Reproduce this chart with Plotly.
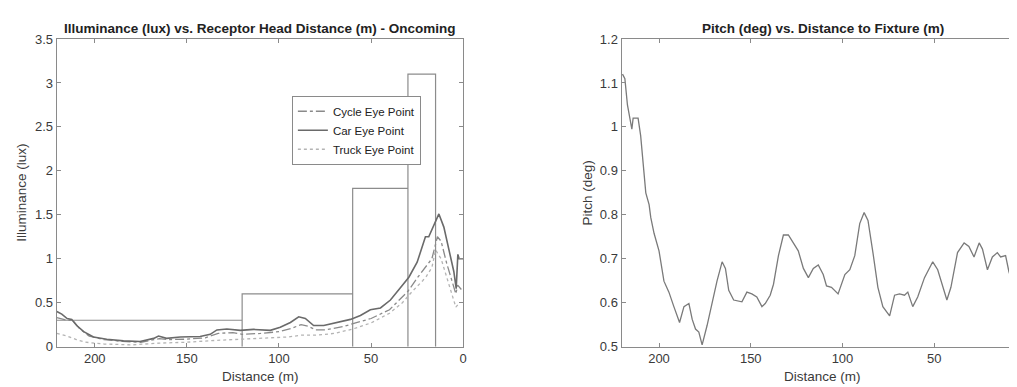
import plotly.graph_objects as go

# ---------------- Data ----------------
# Left: illuminance vs distance
car_d = [220.6, 217.9, 215.0, 212.5, 209.8, 206.0, 200.7, 193.5, 184.4, 175.4, 168.0, 165.4, 161.0,
         153.6, 142.8, 137.3, 133.7, 128.3, 121.0, 113.8, 104.7, 99.3, 93.8, 89.3, 85.7, 81.2, 75.7,
         68.5, 61.2, 55.8, 50.4, 44.9, 39.5, 34.1, 29.5, 25.0, 20.5, 18.7, 15.0, 13.2, 10.5, 7.8,
         5.1, 3.8, 2.9, 2.2, 1.1, 0.0]
car_lux = [0.40, 0.37, 0.32, 0.31, 0.24, 0.17, 0.11, 0.083, 0.065, 0.058, 0.094, 0.12, 0.094,
           0.11, 0.116, 0.14, 0.19, 0.20, 0.185, 0.196, 0.185, 0.22, 0.275, 0.34, 0.32, 0.24, 0.24,
           0.275, 0.31, 0.355, 0.42, 0.44, 0.53, 0.67, 0.79, 0.96, 1.25, 1.25, 1.42, 1.51, 1.36, 1.09,
           0.855, 0.66, 1.05, 1.0, 1.0, 1.0]

cycle_d = [220.6, 215, 212, 208, 203, 195, 185, 175, 165, 160, 150, 140, 133, 125, 120, 110, 100,
           93, 88, 84, 80, 75, 65, 60, 50, 40, 35, 30, 25, 20, 17, 14, 12, 9, 6, 4, 3, 1]
cycle_lux = [0.33, 0.30, 0.30, 0.20, 0.12, 0.08, 0.06, 0.05, 0.09, 0.08, 0.085, 0.10, 0.15, 0.16,
             0.14, 0.15, 0.17, 0.21, 0.25, 0.23, 0.19, 0.19, 0.23, 0.26, 0.32, 0.42, 0.52, 0.63,
             0.78, 0.92, 1.00, 1.25, 1.20, 0.95, 0.75, 0.60, 0.70, 0.65]

truck_d = [220.6, 215, 210, 205, 195, 180, 165, 150, 135, 125, 110, 95, 88, 80, 70, 60, 50, 40,
           33, 28, 22, 20, 17, 15, 12, 9, 6, 4, 2]
truck_lux = [0.15, 0.12, 0.08, 0.05, 0.03, 0.02, 0.04, 0.05, 0.07, 0.08, 0.10, 0.11, 0.13, 0.13,
             0.15, 0.20, 0.27, 0.38, 0.50, 0.62, 0.75, 0.80, 0.90, 1.10, 1.00, 0.80, 0.60, 0.45, 0.50]

# Threshold steps (criterion boxes)
step_d = [220.6, 120, 120, 120, 60, 60, 60, 30, 30, 30, 15, 15]
step_lux = [0.3, 0.3, 0.0, 0.6, 0.6, 0.0, 1.8, 1.8, 0.0, 3.1, 3.1, 0.0]

# Right: pitch vs distance
pitch_d = [219.9, 218.6, 217.2, 214.8, 214.1, 211.4, 210.0, 207.2, 205.4, 204.5, 202.7, 200.0,
           197.3, 194.6, 191.9, 188.8, 186.4, 183.7, 181.9, 180.1, 178.3, 176.5, 173.8, 171.1,
           168.4, 165.6, 163.8, 162.0, 159.3, 154.8, 152.1, 149.4, 146.7, 143.9, 142.1, 139.4,
           137.6, 134.9, 132.2, 129.5, 126.8, 124.1, 121.3, 118.6, 115.9, 113.2, 110.5, 108.7,
           106.0, 102.4, 98.7, 96.0, 93.3, 90.6, 88.2, 86.1, 83.4, 80.7, 78.0, 74.3, 71.6, 68.9,
           66.2, 64.4, 61.7, 59.0, 55.3, 50.8, 48.1, 45.4, 43.1, 40.9, 37.3, 33.7, 31.1, 28.3,
           25.5, 23.7, 21.0, 18.3, 15.6, 13.8, 11.1, 9.3, 6.6, 3.9, 2.0]
pitch_deg = [1.12, 1.11, 1.05, 0.995, 1.02, 1.02, 0.98, 0.85, 0.823, 0.794, 0.758, 0.718,
             0.649, 0.624, 0.591, 0.555, 0.591, 0.598, 0.562, 0.54, 0.533, 0.504, 0.548, 0.598,
             0.649, 0.693, 0.678, 0.628, 0.606, 0.602, 0.624, 0.62, 0.613, 0.591, 0.598, 0.617,
             0.642, 0.707, 0.754, 0.754, 0.736, 0.718, 0.678, 0.657, 0.678, 0.686, 0.664, 0.638,
             0.635, 0.62, 0.664, 0.675, 0.707, 0.78, 0.805, 0.787, 0.714, 0.635, 0.591, 0.57, 0.617,
             0.62, 0.617, 0.624, 0.591, 0.613, 0.657, 0.693, 0.675, 0.635, 0.606, 0.635, 0.714,
             0.736, 0.728, 0.704, 0.736, 0.722, 0.675, 0.704, 0.714, 0.704, 0.707, 0.671, 0.635,
             0.667, 0.657]

lux_ticks = [0, 0.5, 1, 1.5, 2, 2.5, 3, 3.5]
pitch_ticks = [0.5, 0.6, 0.7, 0.8, 0.9, 1.0, 1.1, 1.2]
dist_ticks = [0, 50, 100, 150, 200]

# ---------------- Figure ----------------
W, H = 1017, 387
FONT = "Liberation Sans, Arial, sans-serif"
AX = "#8a8a8a"
TXT = "#3a3a3a"

fig = go.Figure()

fig.add_trace(go.Scatter(x=step_d, y=step_lux, mode="lines", showlegend=False,
                         line=dict(color="#8c8c8c", width=1.2), xaxis="x", yaxis="y"))
fig.add_trace(go.Scatter(x=cycle_d, y=cycle_lux, mode="lines", name="Cycle Eye Point",
                         line=dict(color="#8a8a8a", width=1.3, dash="dashdot"), xaxis="x", yaxis="y"))
fig.add_trace(go.Scatter(x=car_d, y=car_lux, mode="lines", name="Car Eye Point",
                         line=dict(color="#6a6a6a", width=1.6), xaxis="x", yaxis="y"))
fig.add_trace(go.Scatter(x=truck_d, y=truck_lux, mode="lines", name="Truck Eye Point",
                         line=dict(color="#b4b4b4", width=1.3, dash="dot"), xaxis="x", yaxis="y"))

fig.add_trace(go.Scatter(x=pitch_d, y=pitch_deg, mode="lines", showlegend=False,
                         line=dict(color="#7a7a7a", width=1.3), xaxis="x2", yaxis="y2"))

def px(v):
    return v / W

ydom = [(H - 345) / H, (H - 25) / H]

axis_common = dict(showline=True, linecolor=AX, linewidth=1.2, mirror="ticks",
                   ticks="inside", ticklen=4, tickcolor=AX, showgrid=False, zeroline=False,
                   tickfont=dict(family=FONT, size=13, color=TXT))

fig.update_layout(
    width=W, height=H,
    margin=dict(l=0, r=0, t=0, b=0),
    paper_bgcolor="white", plot_bgcolor="white",
    font=dict(family=FONT, color=TXT),
    xaxis=dict(domain=[px(49), px(457)], range=[220.6, 0], tickvals=dist_ticks, anchor="y",
               **axis_common),
    yaxis=dict(domain=ydom, range=[0, 3.5], tickvals=lux_ticks, anchor="x", **axis_common),
    xaxis2=dict(domain=[px(616), 1.0], range=[220.4, 2.7], tickvals=dist_ticks, anchor="y2",
                **axis_common),
    yaxis2=dict(domain=ydom, range=[0.5, 1.2], tickvals=pitch_ticks, anchor="x2",
                **axis_common),
    legend=dict(x=px(285), y=(H - 84) / H, xanchor="left", yanchor="top",
                bgcolor="white", bordercolor="#8a8a8a", borderwidth=1,
                font=dict(family=FONT, size=11.5, color="#222"), itemwidth=30,
                tracegroupgap=0),
    showlegend=True,
)

annots = [
    dict(text="<b>Illuminance (lux) vs. Receptor Head Distance (m) - Oncoming</b>",
         x=px(253), y=(H - 14) / H, size=13.5, angle=0),
    dict(text="<b>Pitch (deg) vs. Distance to Fixture (m)</b>",
         x=px(818), y=(H - 14) / H, size=13.5, angle=0),
    dict(text="Distance (m)", x=px(253), y=(H - 376) / H, size=13.5, angle=0),
    dict(text="Distance (m)", x=px(818), y=(H - 376) / H, size=13.5, angle=0),
    dict(text="Illuminance (lux)", x=px(14), y=(H - 185) / H, size=13.5, angle=-90),
    dict(text="Pitch (deg)", x=px(582), y=(H - 185) / H, size=13.5, angle=-90),
]
for a in annots:
    fig.add_annotation(text=a["text"], x=a["x"], y=a["y"], xref="paper", yref="paper",
                       xanchor="center", yanchor="middle", showarrow=False,
                       textangle=a["angle"],
                       font=dict(family=FONT, size=a["size"], color="#222" if "<b>" in a["text"] else TXT))

fig.write_html("out.html")
